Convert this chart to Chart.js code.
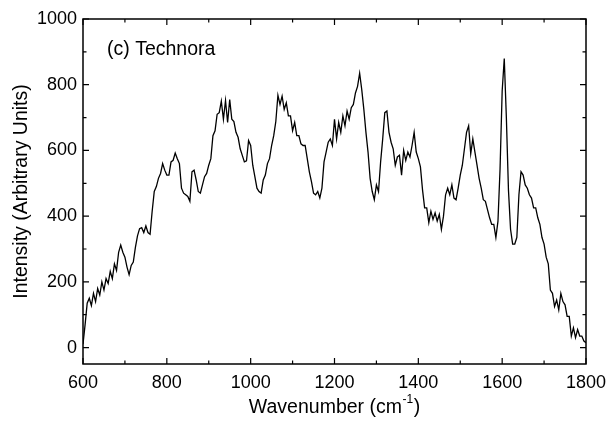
<!DOCTYPE html>
<html>
<head>
<meta charset="utf-8">
<script src="https://cdn.jsdelivr.net/npm/chart.js@4"></script>
<style>
  html, body { margin: 0; padding: 0; background: #fff; }
  #wrap { width: 607px; height: 421px; }
</style>
</head>
<body>
<div id="wrap"><canvas id="chart" width="607" height="421"></canvas></div>
<script>
const waveStart = 600;
const waveStep = 5;
const intensity = [
  10, 70, 135, 150, 128, 165, 140, 180, 160, 200,
  175, 210, 195, 232, 210, 255, 235, 290, 312, 290,
  275, 245, 222, 250, 260, 305, 340, 362, 365, 350,
  370, 350, 345, 415, 475, 490, 515, 530, 560, 540,
  525, 525, 565, 570, 592, 575, 560, 485, 470, 465,
  460, 445, 535, 540, 510, 475, 470, 495, 520, 530,
  555, 575, 645, 660, 710, 715, 750, 695, 752, 685,
  755, 695, 688, 655, 640, 605, 585, 565, 568, 630,
  615, 555, 520, 485, 475, 470, 510, 525, 560, 575,
  615, 645, 688, 768, 740, 765, 725, 745, 705, 705,
  660, 685, 645, 645, 620, 615, 615, 575, 535, 505,
  470, 465, 475, 455, 485, 565, 595, 625, 635, 615,
  695, 635, 685, 655, 705, 675, 720, 695, 730, 740,
  775, 795, 835, 785, 725, 655, 595, 515, 475, 450,
  495, 475, 565, 635, 715, 720, 655, 625, 605, 555,
  580, 585, 525, 600, 570, 595, 580, 615, 655, 595,
  575, 550, 480, 425, 425, 380, 415, 390, 410, 385,
  405, 360, 400, 465, 485, 465, 495, 455, 450, 485,
  525, 555, 605, 655, 675, 590, 635, 595, 555, 515,
  485, 450, 445, 420, 395, 375, 375, 335, 385, 545,
  780, 880, 700, 480, 360, 315, 315, 335, 465, 535,
  525, 495, 485, 465, 455, 425, 425, 395, 375, 335,
  315, 275, 255, 175, 165, 125, 145, 115, 165, 140,
  130, 95, 95, 35, 60, 30, 55, 35, 35, 20,
  15
];
const xTicks = [600, 800, 1000, 1200, 1400, 1600, 1800];
const yTicks = [0, 200, 400, 600, 800, 1000];
const xMinor = [700, 900, 1100, 1300, 1500, 1700];
const yMinor = [100, 300, 500, 700, 900];

const points = intensity.map((v, i) => ({ x: waveStart + i * waveStep, y: v }));

const FONT = "Liberation Sans, Arial, sans-serif";

// marco, marcas hacia dentro y textos
const framePlugin = {
  id: "frame",
  afterDraw(chart) {
    const { ctx, chartArea: a, scales } = chart;
    const xs = scales.x, ys = scales.y;
    ctx.save();
    ctx.strokeStyle = "#000";
    ctx.lineWidth = 1.5;
    ctx.strokeRect(a.left, a.top, a.right - a.left, a.bottom - a.top);
    ctx.lineWidth = 1.2;
    const tickX = (vals, len) => {
      vals.forEach((v) => {
        const px = xs.getPixelForValue(v);
        ctx.beginPath();
        ctx.moveTo(px, a.bottom); ctx.lineTo(px, a.bottom - len);
        ctx.moveTo(px, a.top); ctx.lineTo(px, a.top + len);
        ctx.stroke();
      });
    };
    const tickY = (vals, len) => {
      vals.forEach((v) => {
        const py = ys.getPixelForValue(v);
        ctx.beginPath();
        ctx.moveTo(a.left, py); ctx.lineTo(a.left + len, py);
        ctx.moveTo(a.right, py); ctx.lineTo(a.right - len, py);
        ctx.stroke();
      });
    };
    tickX(xTicks, 6);
    tickX(xMinor, 3.5);
    tickY(yTicks, 6);
    tickY(yMinor, 3.5);

    ctx.fillStyle = "#000";
    ctx.font = "19.5px " + FONT;
    ctx.textBaseline = "middle";
    ctx.textAlign = "left";
    ctx.fillText("(c) Technora", 107, 50);

    // titulo eje x con superindice
    const main = "Wavenumber (cm";
    const sup = "-1";
    const end = ")";
    ctx.font = "19.5px " + FONT;
    const w1 = ctx.measureText(main).width;
    const w3 = ctx.measureText(end).width;
    ctx.font = "12px " + FONT;
    const w2 = ctx.measureText(sup).width;
    const cx = (a.left + a.right) / 2;
    const x0 = cx - (w1 + w2 + w3 + 1) / 2;
    const yT = 408;
    ctx.font = "19.5px " + FONT;
    ctx.fillText(main, x0, yT);
    ctx.font = "12px " + FONT;
    ctx.fillText(sup, x0 + w1 + 0.5, yT - 8);
    ctx.font = "19.5px " + FONT;
    ctx.fillText(end, x0 + w1 + w2 + 1, yT);

    // titulo eje y
    ctx.translate(22, (a.top + a.bottom) / 2);
    ctx.rotate(-Math.PI / 2);
    ctx.textAlign = "center";
    ctx.fillText("Intensity (Arbitrary Units)", 0, 0);
    ctx.restore();
  },
};

const ctx = document.getElementById("chart").getContext("2d");

new Chart(ctx, {
  type: "line",
  data: {
    datasets: [
      {
        label: "Technora",
        data: points,
        borderColor: "#000",
        borderWidth: 1.3,
        pointRadius: 0,
        tension: 0,
        fill: false,
      },
    ],
  },
  options: {
    responsive: false,
    animation: false,
    layout: { padding: { top: 19, right: 21, left: 0, bottom: 0 } },
    plugins: {
      legend: { display: false },
      tooltip: { enabled: false },
      title: { display: false },
    },
    scales: {
      x: {
        type: "linear",
        min: 600,
        max: 1800,
        afterBuildTicks: (s) => { s.ticks = xTicks.map((v) => ({ value: v })); },
        afterFit: (s) => {
          s.height = 421 - 364;
          s.paddingLeft = 0;
          s.paddingRight = 0;
        },
        grid: { display: false, drawTicks: false },
        border: { display: false },
        ticks: {
          color: "#000",
          font: { size: 18, family: FONT },
          padding: 8,
          maxRotation: 0,
          callback: (v) => String(v),
        },
      },
      y: {
        min: -50,
        max: 1000,
        afterBuildTicks: (s) => { s.ticks = yTicks.map((v) => ({ value: v })); },
        afterFit: (s) => {
          s.width = 83;
          s.paddingTop = 0;
          s.paddingBottom = 0;
        },
        grid: { display: false, drawTicks: false },
        border: { display: false },
        ticks: {
          color: "#000",
          font: { size: 18, family: FONT },
          padding: 6,
          callback: (v) => String(v),
        },
      },
    },
  },
  plugins: [framePlugin],
});
</script>
</body>
</html>
